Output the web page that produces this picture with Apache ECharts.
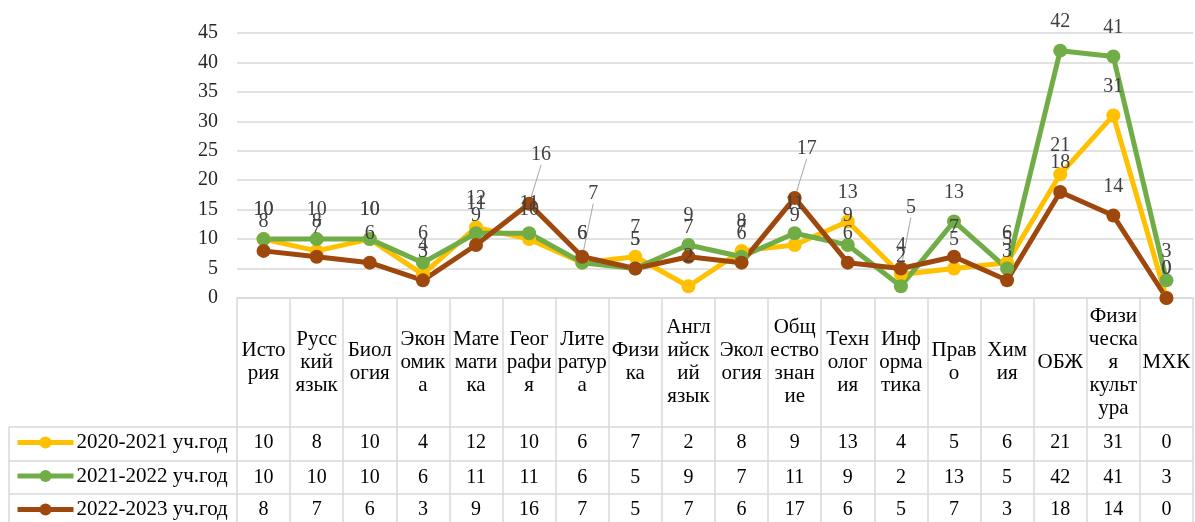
<!DOCTYPE html>
<html>
<head>
<meta charset="utf-8">
<script src="https://cdn.jsdelivr.net/npm/echarts@6/dist/echarts.min.js"></script>
<title>Участники олимпиад</title>
<style>
html, body { margin: 0; padding: 0; background: #fff; }
#main { width: 1195px; height: 522px; }
</style>
</head>
<body>
<div id="main"></div>
<script>
// подписи категорий (с переносами, как в таблице данных)
var categories = [
    'Исто\nрия', 'Русс\nкий\nязык', 'Биол\nогия', 'Экон\nомик\nа', 'Мате\nмати\nка',
    'Геог\nрафи\nя', 'Лите\nратур\nа', 'Физи\nка', 'Англ\nийск\nий\nязык', 'Экол\nогия',
    'Общ\nество\nзнан\nие', 'Техн\nолог\nия', 'Инф\nорма\nтика', 'Прав\nо', 'Хим\nия',
    'ОБЖ', 'Физи\nческа\nя\nкульт\nура', 'МХК'
];
var seriesNames = ['2020-2021 уч.год', '2021-2022 уч.год', '2022-2023 уч.год'];
var year2020 = [10, 8, 10, 4, 12, 10, 6, 7, 2, 8, 9, 13, 4, 5, 6, 21, 31, 0];
var year2021 = [10, 10, 10, 6, 11, 11, 6, 5, 9, 7, 11, 9, 2, 13, 5, 42, 41, 3];
var year2022 = [8, 7, 6, 3, 9, 16, 7, 5, 7, 6, 17, 6, 5, 7, 3, 18, 14, 0];
var colors = ['#FFC000', '#70AD47', '#9E480E'];

// сдвинутые подписи с линиями-выносками (только 2022-2023)
var movedLabels = { 5: [12, -20], 6: [11, -34], 10: [12, -20], 12: [10, -32] };

var font = 'Liberation Serif';
var gridColor = '#D9D9D9';
var rowOffsets = [145, 180, 212];

var myChart = echarts.init(document.getElementById('main'));

function makeSeries(name, values, color, withMoved) {
    var data = values.map(function (v, i) {
        if (withMoved && movedLabels[i]) {
            return { value: v, labelLine: { show: true } };
        }
        return v;
    });
    return {
        name: name,
        type: 'line',
        data: data,
        symbol: 'circle',
        symbolSize: 14,
        lineStyle: { color: color, width: 5 },
        itemStyle: { color: color },
        label: {
            show: true,
            position: 'top',
            distance: 12,
            color: '#404040',
            fontFamily: font,
            fontSize: 20,
            lineHeight: 20
        },
        labelLine: {
            show: false,
            lineStyle: { color: '#A6A6A6', width: 1 }
        },
        labelLayout: function (params) {
            var m = withMoved ? movedLabels[params.dataIndex] : null;
            return m ? { dx: m[0], dy: m[1] } : {};
        },
        animation: false
    };
}

function tableAxis(values, offset) {
    return {
        type: 'category',
        data: categories,
        position: 'bottom',
        offset: offset,
        axisLine: { show: false },
        axisTick: { show: false },
        splitLine: { show: false },
        axisLabel: {
            interval: 0,
            margin: 0,
            verticalAlign: 'middle',
            color: '#000',
            fontFamily: font,
            fontSize: 20,
            formatter: function (v, i) { return String(values[i]); }
        }
    };
}

var tableLines = [427, 461, 494].map(function (y) {
    return { type: 'line', shape: { x1: 9, y1: y, x2: 1193, y2: y }, style: { stroke: gridColor, lineWidth: 1.5 } };
});
tableLines.push({ type: 'line', shape: { x1: 9, y1: 427, x2: 9, y2: 522 }, style: { stroke: gridColor, lineWidth: 1.5 } });

var option = {
    backgroundColor: '#fff',
    color: colors,
    animation: false,
    grid: { left: 237, right: 2, top: 33, bottom: 224 },
    legend: {
        orient: 'vertical',
        left: 15,
        top: 432,
        padding: 0,
        itemWidth: 56,
        itemHeight: 15,
        itemGap: 12.5,
        data: seriesNames,
        lineStyle: { width: 5 },
        textStyle: { color: '#000', fontFamily: font, fontSize: 21, lineHeight: 21, padding: [0, 0, 0, -2] }
    },
    xAxis: [
        {
            type: 'category',
            data: categories,
            boundaryGap: true,
            axisLine: { lineStyle: { color: gridColor, width: 1.5 } },
            axisTick: { show: true, interval: 0, length: 224, lineStyle: { color: gridColor, width: 1.5 } },
            axisLabel: {
                interval: 0,
                margin: 64,
                verticalAlign: 'middle',
                color: '#000',
                fontFamily: font,
                fontSize: 21,
                lineHeight: 23
            }
        },
        tableAxis(year2020, rowOffsets[0]),
        tableAxis(year2021, rowOffsets[1]),
        tableAxis(year2022, rowOffsets[2])
    ],
    yAxis: {
        type: 'value',
        min: 0,
        max: 45,
        interval: 5,
        axisLine: { show: false },
        axisTick: { show: false },
        axisLabel: { margin: 19, color: '#262626', fontFamily: font, fontSize: 20 },
        splitLine: { lineStyle: { color: gridColor, width: 1.5 } }
    },
    graphic: tableLines,
    series: [
        makeSeries(seriesNames[0], year2020, colors[0], false),
        makeSeries(seriesNames[1], year2021, colors[1], false),
        makeSeries(seriesNames[2], year2022, colors[2], true)
    ]
};

myChart.setOption(option);
</script>
</body>
</html>
